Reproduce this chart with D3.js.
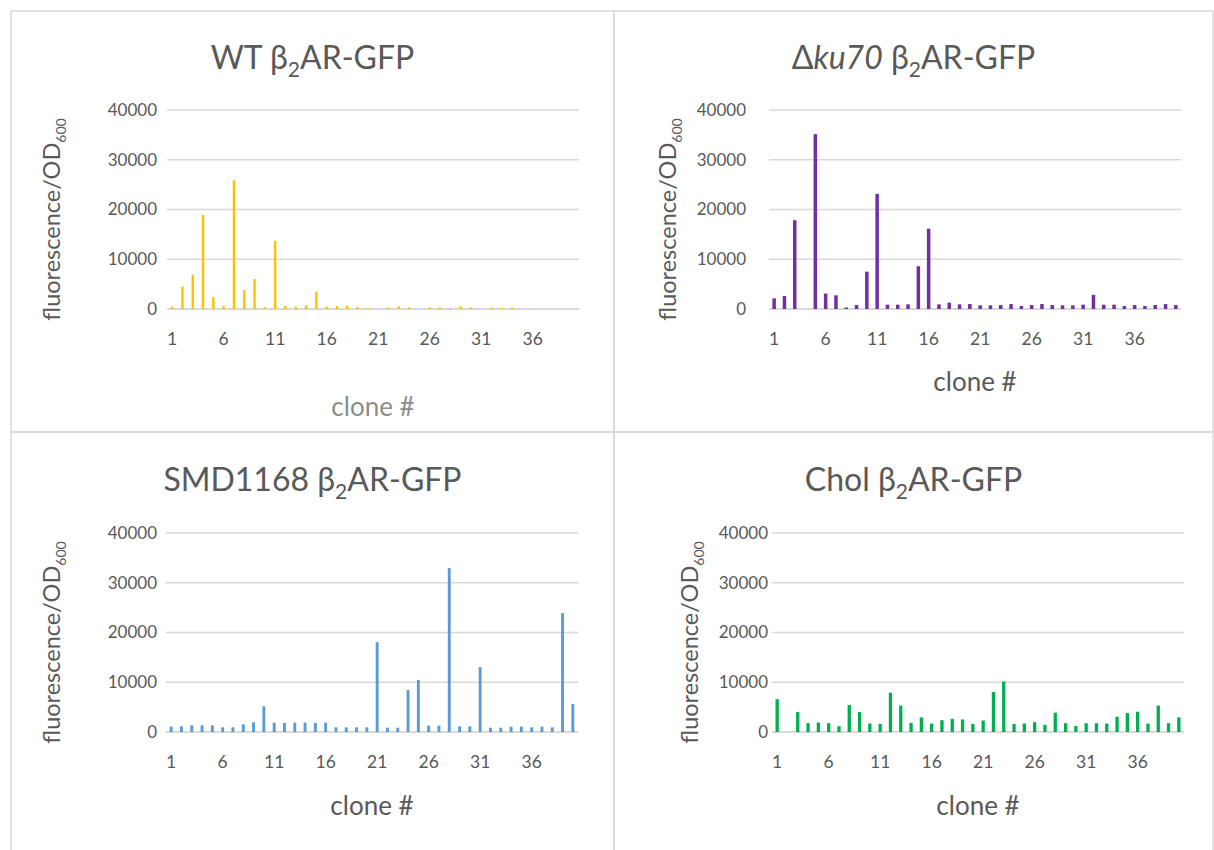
<!DOCTYPE html>
<html>
<head>
<meta charset="utf-8">
<script src="https://cdn.jsdelivr.net/npm/d3@7/dist/d3.min.js"></script>
<style>
  body { margin: 0; background: #fff; }
  svg { display: block; font-family: Lato, 'Open Sans', sans-serif; }
</style>
</head>
<body>
<svg id="chart" width="1214" height="850"></svg>
<script>
// clone numbers on the x axis
const clones = [1, 2, 3, 4, 5, 6, 7, 8, 9, 10, 11, 12, 13, 14, 15, 16, 17, 18, 19, 20,
  21, 22, 23, 24, 25, 26, 27, 28, 29, 30, 31, 32, 33, 34, 35, 36, 37, 38, 39, 40]
const xTickLabels = [1, 6, 11, 16, 21, 26, 31, 36]
const yTicks = [0, 10000, 20000, 30000, 40000]

// fluorescence/OD600 per clone
const wtValues = [500, 4500, 6900, 18900, 2400, 600, 25900, 3800, 6000, 400,
  13700, 600, 500, 700, 3500, 500, 600, 650, 400, 200,
  0, 300, 550, 330, 0, 330, 330, -250, 540, 330,
  0, 300, 200, 300, 0, 0, 0, 0, 0, 0]
const ku70Values = [2150, 2600, 17850, 0, 35150, 3100, 2750, 300, 800, 7500,
  23150, 870, 870, 940, 8600, 16150, 940, 1280, 940, 1000,
  740, 740, 800, 1000, 600, 800, 1000, 800, 740, 740,
  870, 2850, 870, 870, 600, 800, 600, 800, 1000, 800]
const smdValues = [1070, 1140, 1340, 1340, 1340, 940, 940, 1540, 1950, 5170,
  1880, 1810, 1880, 1880, 1810, 1880, 940, 940, 940, 940,
  18050, 870, 870, 8460, 10470, 1280, 1280, 32950, 1140, 1140,
  13020, 870, 870, 1070, 1070, 940, 1070, 940, 23900, 5640]
const cholValues = [6600, 0, 4000, 1770, 1900, 1770, 1160, 5440, 4010, 1700,
  1630, 7890, 5300, 1840, 2930, 1700, 2380, 2650, 2520, 1630,
  2310, 8030, 10140, 1630, 1700, 1970, 1430, 3880, 1770, 1220,
  1770, 1770, 1700, 3060, 3810, 4080, 1700, 5300, 1770, 2930]

const panels = [
  { name: 'WT', values: wtValues, color: '#ffc000', pad: 0.77,
    box: [11, 11, 614, 432], left: 167, right: 579, top: 110, bottom: 309,
    titleY: 69, labelGap: 10, yLabelX: 52, xTickY: 347, xTitleY: 416, xTitleColor: '#8c8c8c' },
  { name: 'ku70', values: ku70Values, color: '#7030a0', pad: 0.66,
    box: [614, 11, 1213, 432], left: 769, right: 1181, top: 110, bottom: 309,
    titleY: 69, labelGap: 23, yLabelX: 668, xTickY: 347, xTitleY: 391, xTitleColor: '#595959' },
  { name: 'SMD1168', values: smdValues, color: '#5b9bd5', pad: 0.72,
    box: [11, 432, 614, 860], left: 166, right: 578, top: 533, bottom: 732,
    titleY: 491, labelGap: 9, yLabelX: 52, xTickY: 770, xTitleY: 815, xTitleColor: '#595959' },
  { name: 'Chol', values: cholValues, color: '#00b050', pad: 0.68,
    box: [614, 432, 1213, 860], left: 772, right: 1184, top: 533, bottom: 732,
    titleY: 491, labelGap: 4, yLabelX: 690, xTickY: 770, xTitleY: 815, xTitleColor: '#595959' }
]

const svg = d3.select('#chart')
svg.append('rect').attr('width', 1214).attr('height', 850).attr('fill', '#fff')

/**
 * Writes the panel title, with the subscript 2 in beta-2.
 */
function drawTitle (g, p) {
  const cx = (p.box[0] + p.box[2]) / 2
  const t = g.append('text')
    .attr('x', cx)
    .attr('y', p.titleY)
    .attr('text-anchor', 'middle')
    .style('font-size', '32px')
    .attr('fill', '#595959')
  if (p.name === 'ku70') {
    t.append('tspan').text('Δ')
    t.append('tspan').style('font-style', 'italic').text('ku70')
    t.append('tspan').text(' β')
  } else {
    t.append('tspan').text(p.name + ' β')
  }
  t.append('tspan').attr('dy', 8).style('font-size', '21px').text('2')
  t.append('tspan').attr('dy', -8).text('AR-GFP')
}

panels.forEach(p => {
  const g = svg.append('g')

  g.append('rect')
    .attr('x', p.box[0]).attr('y', p.box[1])
    .attr('width', p.box[2] - p.box[0]).attr('height', p.box[3] - p.box[1])
    .attr('fill', 'none').attr('stroke', '#d9d9d9').attr('stroke-width', 1.5)

  drawTitle(g, p)

  const x = d3.scaleBand()
    .domain(clones)
    .range([p.left, p.right])
    .paddingInner(p.pad)
    .paddingOuter(p.pad / 2)

  const y = d3.scaleLinear().domain([0, 40000]).range([p.bottom, p.top])

  // gridlines
  g.append('g')
    .selectAll('line')
    .data(yTicks)
    .join('line')
    .attr('x1', p.left).attr('x2', p.right)
    .attr('y1', d => y(d)).attr('y2', d => y(d))
    .attr('stroke', '#d9d9d9')
    .attr('stroke-width', d => d === 0 ? 1.8 : 1.3)

  // y axis labels
  const yAxis = d3.axisLeft(y).tickValues(yTicks).tickSize(0).tickPadding(p.labelGap).tickFormat(d3.format('d'))
  g.append('g')
    .attr('transform', `translate(${p.left},0)`)
    .call(yAxis)
    .call(a => a.select('.domain').remove())
    .selectAll('text')
    .style('font-size', '17px')
    .style('font-family', 'Lato, sans-serif')
    .attr('fill', '#595959')

  // bars
  g.append('g')
    .selectAll('rect')
    .data(p.values)
    .join('rect')
    .attr('x', (d, i) => x(clones[i]))
    .attr('width', x.bandwidth())
    .attr('y', d => Math.min(y(d), y(0)))
    .attr('height', d => Math.abs(y(d) - y(0)))
    .attr('fill', p.color)

  // x axis labels
  const xAxis = d3.axisBottom(x).tickValues(xTickLabels).tickSize(0).tickPadding(0)
  g.append('g')
    .attr('transform', `translate(0,${p.xTickY - 14})`)
    .call(xAxis)
    .call(a => a.select('.domain').remove())
    .selectAll('text')
    .style('font-size', '17.5px')
    .style('font-family', 'Lato, sans-serif')
    .attr('fill', '#595959')

  // axis titles
  g.append('text')
    .attr('x', (p.left + p.right) / 2)
    .attr('y', p.xTitleY)
    .attr('text-anchor', 'middle')
    .style('font-size', '26px')
    .attr('fill', p.xTitleColor)
    .text('clone #')

  const yl = g.append('text')
    .attr('transform', `translate(${p.yLabelX},${(p.top + p.bottom) / 2 + 10}) rotate(-90)`)
    .attr('text-anchor', 'middle')
    .attr('dy', '0.35em')
    .style('font-size', '23.5px')
    .attr('fill', '#595959')
  yl.append('tspan').text('fluorescence/OD')
  yl.append('tspan').attr('dy', 6).style('font-size', '14px').text('600')
})
</script>
</body>
</html>
